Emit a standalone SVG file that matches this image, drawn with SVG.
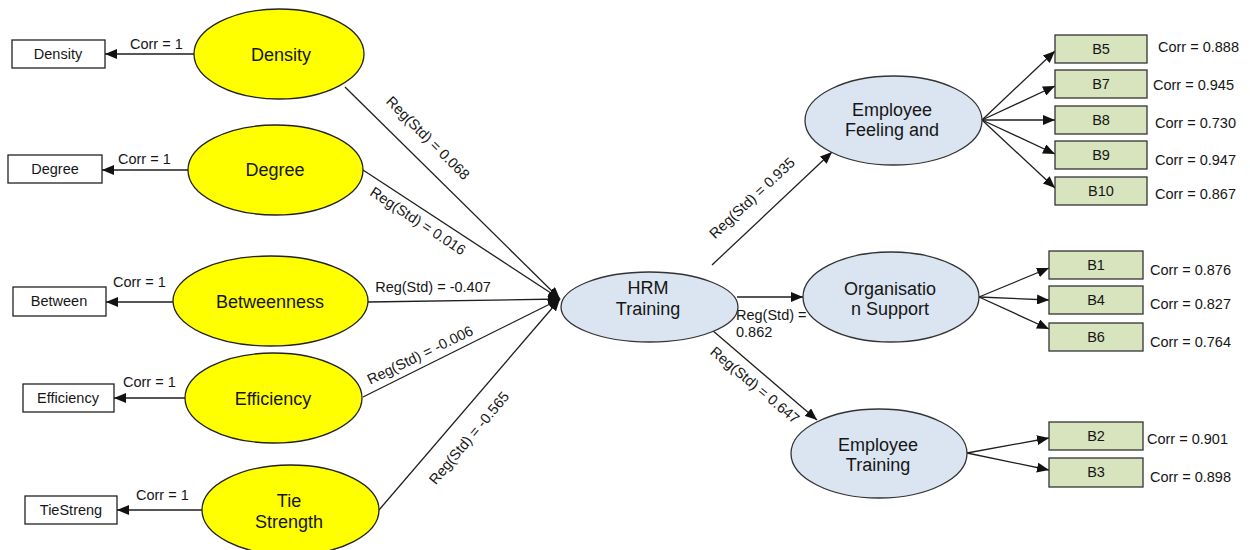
<svg xmlns="http://www.w3.org/2000/svg" width="1250" height="550" viewBox="0 0 1250 550">
  <style>
    text { font-family: "Liberation Sans", Arial, sans-serif; fill: #161616; }
    .lbl { font-size: 14.5px; }
    .big { font-size: 18px; text-anchor: middle; }
    .box { fill: #ffffff; stroke: #222; stroke-width: 1.3; }
    .ind { fill: #d7e4bd; stroke: #333; stroke-width: 1.3; }
    .yel { fill: #ffff00; stroke: #222; stroke-width: 1.3; }
    .blu { fill: #dbe5f1; stroke: #333; stroke-width: 1.3; }
    .mid { text-anchor: middle; }
    .edge { stroke: #1e1e1e; stroke-width: 1.3; fill: none; marker-end: url(#arr); }
  </style>
  <defs>
    <marker id="arr" markerUnits="userSpaceOnUse" markerWidth="12" markerHeight="10" viewBox="0 0 12 10" refX="12" refY="5" orient="auto">
      <path d="M0,0 L12,5 L0,10 z" fill="#111"/>
    </marker>
  </defs>
  <rect width="1250" height="550" fill="#ffffff"/>

  <!-- connectors -->
  <g id="connectors">
    <!-- latent to single indicator -->
    <line class="edge" x1="195" y1="54" x2="105" y2="54"/>
    <line class="edge" x1="188" y1="170" x2="102" y2="170"/>
    <line class="edge" x1="173" y1="302" x2="106" y2="302"/>
    <line class="edge" x1="185" y1="398" x2="114" y2="398"/>
    <line class="edge" x1="202" y1="510" x2="117" y2="510"/>
    <!-- network measures to HRM Training -->
    <line class="edge" x1="345" y1="87" x2="560" y2="299"/>
    <line class="edge" x1="363" y1="170" x2="560" y2="299"/>
    <line class="edge" x1="368" y1="302" x2="560" y2="299"/>
    <line class="edge" x1="363" y1="397" x2="560" y2="299"/>
    <line class="edge" x1="379" y1="510" x2="560" y2="299"/>
    <!-- HRM Training to outcomes -->
    <line class="edge" x1="712" y1="265" x2="832" y2="152"/>
    <line class="edge" x1="737" y1="297" x2="803" y2="297"/>
    <line class="edge" x1="712" y1="330" x2="817" y2="420"/>
    <!-- outcome indicators -->
    <line class="edge" x1="982" y1="120" x2="1055" y2="51"/>
    <line class="edge" x1="982" y1="120" x2="1055" y2="86"/>
    <line class="edge" x1="982" y1="120" x2="1055" y2="120"/>
    <line class="edge" x1="982" y1="120" x2="1055" y2="154"/>
    <line class="edge" x1="982" y1="120" x2="1055" y2="188"/>
    <line class="edge" x1="979" y1="297" x2="1049" y2="268"/>
    <line class="edge" x1="979" y1="297" x2="1049" y2="300"/>
    <line class="edge" x1="979" y1="297" x2="1049" y2="329"/>
    <line class="edge" x1="967" y1="453" x2="1049" y2="438"/>
    <line class="edge" x1="967" y1="453" x2="1049" y2="470"/>

    <!-- path labels -->
    <text class="lbl" x="130" y="49">Corr = 1</text>
    <text class="lbl" x="118" y="164">Corr = 1</text>
    <text class="lbl" x="113" y="287">Corr = 1</text>
    <text class="lbl" x="123" y="387">Corr = 1</text>
    <text class="lbl" x="136" y="500">Corr = 1</text>
    <text class="lbl mid" transform="translate(428,138) rotate(45)" y="5">Reg(Std) = 0.068</text>
    <text class="lbl mid" transform="translate(418,221) rotate(33.5)" y="5">Reg(Std) = 0.016</text>
    <text class="lbl mid" x="433" y="292">Reg(Std) = -0.407</text>
    <text class="lbl mid" transform="translate(420,355) rotate(-26)" y="5">Reg(Std) = -0.006</text>
    <text class="lbl mid" transform="translate(469,438) rotate(-50)" y="5">Reg(Std) = -0.565</text>
    <text class="lbl mid" transform="translate(752,198) rotate(-43)" y="5">Reg(Std) = 0.935</text>
    <text class="lbl" x="736" y="320">Reg(Std) =</text>
    <text class="lbl" x="736" y="337">0.862</text>
    <text class="lbl mid" transform="translate(755,385) rotate(40)" y="5">Reg(Std) = 0.647</text>
    <text class="lbl" x="1158" y="52">Corr = 0.888</text>
    <text class="lbl" x="1153" y="90">Corr = 0.945</text>
    <text class="lbl" x="1155" y="128">Corr = 0.730</text>
    <text class="lbl" x="1155" y="165">Corr = 0.947</text>
    <text class="lbl" x="1155" y="199">Corr = 0.867</text>
    <text class="lbl" x="1150" y="275">Corr = 0.876</text>
    <text class="lbl" x="1150" y="309">Corr = 0.827</text>
    <text class="lbl" x="1150" y="347">Corr = 0.764</text>
    <text class="lbl" x="1147" y="444">Corr = 0.901</text>
    <text class="lbl" x="1150" y="482">Corr = 0.898</text>
  </g>

  <!-- single indicators -->
  <g id="ind-density"><rect class="box" x="12" y="40" width="93" height="28"/><text class="lbl mid" x="58" y="59">Density</text></g>
  <g id="ind-degree"><rect class="box" x="8" y="155" width="94" height="28"/><text class="lbl mid" x="55" y="174">Degree</text></g>
  <g id="ind-between"><rect class="box" x="13" y="287" width="93" height="29"/><text class="lbl mid" x="59" y="306">Between</text></g>
  <g id="ind-efficiency"><rect class="box" x="23" y="384" width="91" height="28"/><text class="lbl mid" x="68" y="403">Efficiency</text></g>
  <g id="ind-tiestreng"><rect class="box" x="25" y="496" width="92" height="28"/><text class="lbl mid" x="71" y="515">TieStreng</text></g>

  <!-- network measures -->
  <g id="density"><ellipse class="yel" cx="279" cy="54" rx="85" ry="45"/><text class="big" x="281" y="61">Density</text></g>
  <g id="degree"><ellipse class="yel" cx="275.5" cy="170" rx="87.5" ry="45"/><text class="big" x="275" y="176">Degree</text></g>
  <g id="betweenness"><ellipse class="yel" cx="270.5" cy="301" rx="97.5" ry="45"/><text class="big" x="270" y="308">Betweenness</text></g>
  <g id="efficiency"><ellipse class="yel" cx="273.5" cy="398" rx="88.5" ry="45"/><text class="big" x="273" y="405">Efficiency</text></g>
  <g id="tie-strength"><ellipse class="yel" cx="290.5" cy="510" rx="88.5" ry="45"/><text class="big" x="289" y="507">Tie</text><text class="big" x="289" y="528">Strength</text></g>

  <!-- central construct -->
  <g id="hrm-training"><ellipse class="blu" cx="649.5" cy="307" rx="88.5" ry="35"/><text class="big" x="648" y="294">HRM</text><text class="big" x="648" y="315">Training</text></g>

  <!-- outcomes -->
  <g id="employee-feeling"><ellipse class="blu" cx="893.5" cy="120.5" rx="88.5" ry="44.5"/><text class="big" x="892" y="116">Employee</text><text class="big" x="892" y="136">Feeling and</text></g>
  <g id="organisation-support"><ellipse class="blu" cx="891" cy="297" rx="88" ry="45"/><text class="big" x="890" y="295">Organisatio</text><text class="big" x="890" y="315">n Support</text></g>
  <g id="employee-training"><ellipse class="blu" cx="879" cy="453.5" rx="88" ry="44.5"/><text class="big" x="878" y="451">Employee</text><text class="big" x="878" y="471">Training</text></g>

  <!-- outcome indicators -->
  <g id="b5"><rect class="ind" x="1055" y="35" width="92" height="28"/><text class="lbl mid" x="1101" y="54">B5</text></g>
  <g id="b7"><rect class="ind" x="1055" y="70" width="92" height="28"/><text class="lbl mid" x="1101" y="89">B7</text></g>
  <g id="b8"><rect class="ind" x="1055" y="106" width="92" height="28"/><text class="lbl mid" x="1101" y="125">B8</text></g>
  <g id="b9"><rect class="ind" x="1055" y="141" width="92" height="28"/><text class="lbl mid" x="1101" y="160">B9</text></g>
  <g id="b10"><rect class="ind" x="1055" y="177" width="92" height="28"/><text class="lbl mid" x="1101" y="196">B10</text></g>
  <g id="b1"><rect class="ind" x="1049" y="251" width="94" height="28"/><text class="lbl mid" x="1096" y="270">B1</text></g>
  <g id="b4"><rect class="ind" x="1049" y="286" width="94" height="28"/><text class="lbl mid" x="1096" y="305">B4</text></g>
  <g id="b6"><rect class="ind" x="1049" y="323" width="94" height="28"/><text class="lbl mid" x="1096" y="342">B6</text></g>
  <g id="b2"><rect class="ind" x="1049" y="422" width="94" height="28"/><text class="lbl mid" x="1096" y="441">B2</text></g>
  <g id="b3"><rect class="ind" x="1049" y="458" width="94" height="29"/><text class="lbl mid" x="1096" y="477">B3</text></g>
</svg>
